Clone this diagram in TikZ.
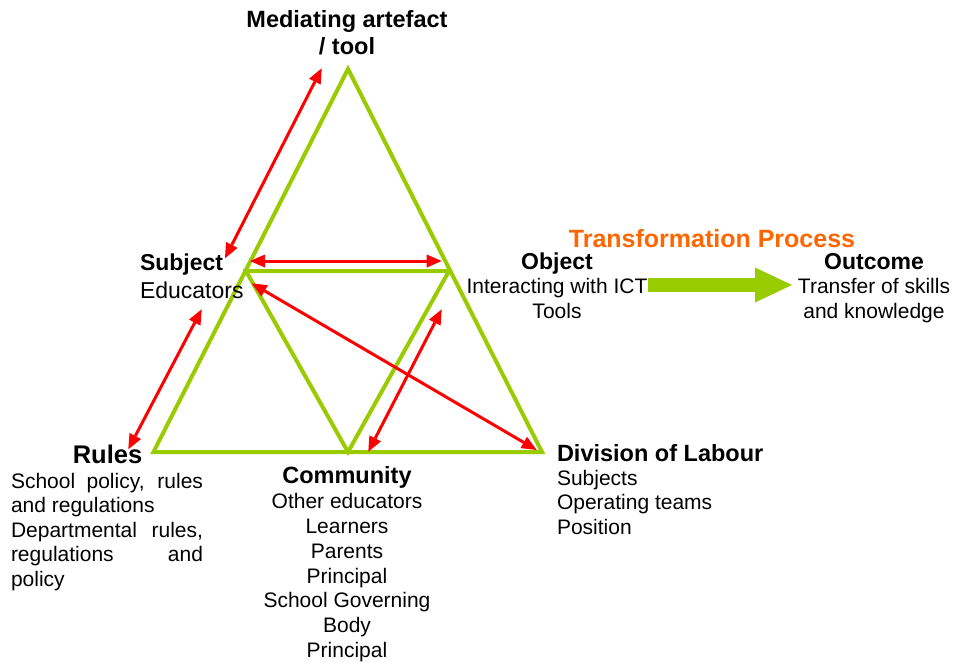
\documentclass[tikz,border=0pt]{standalone}
\usepackage{fontspec}
\setmainfont{Liberation Sans}
\usetikzlibrary{arrows.meta}
\definecolor{trigreen}{RGB}{153,204,0}
\definecolor{arrred}{RGB}{255,0,0}
\definecolor{procorange}{RGB}{255,102,0}
\newcommand{\myfs}[2]{\fontsize{#1}{#2}\selectfont}
\begin{document}
\begin{tikzpicture}[x=1pt,y=-1pt,
  edge/.style={draw=trigreen, line width=4pt, line join=miter},
  link/.style={draw=arrred, line width=3pt,
    {Triangle[length=15pt,width=13pt,line width=0pt]}-{Triangle[length=15pt,width=13pt,line width=0pt]}},
  flow/.style={draw=trigreen, line width=14pt, -{Triangle[length=37pt,width=35pt,line width=0pt]}},
  lbl/.style={inner sep=0pt, outer sep=0pt},
]
\useasboundingbox (0,0) rectangle (955,661);

% triangles
\coordinate (apex) at (348,69);
\coordinate (bl) at (153.5,452);
\coordinate (br) at (542,452);
\coordinate (il) at (246,271);
\coordinate (ir) at (449,271);
\coordinate (ib) at (348,452);
\draw[edge] (apex) -- (bl) -- (br) -- cycle;
\draw[edge] (il) -- (ir) -- (ib) -- cycle;

% labels (anchor=base of multi-line nodes = baseline of last line)
\node[lbl, anchor=base, align=center, font=\bfseries\myfs{23.5}{27}] (tool) at (347,55) {Mediating artefact\\/ tool};
\node[lbl, anchor=base west, align=left, font=\myfs{23}{28}] (subject) at (140,298) {\textbf{Subject}\\Educators};
\node[lbl, anchor=base, align=center, font=\myfs{21}{24.5}] (object) at (557,318) {{\bfseries\myfs{23}{24.5}Object}\\Interacting with ICT\\Tools};
\node[lbl, anchor=base, align=center, font=\myfs{21}{24.5}] (outcome) at (874,318) {{\bfseries\myfs{23}{24.5}Outcome}\\Transfer of skills\\and knowledge};
\node[lbl, anchor=base, font=\bfseries\myfs{25}{28}, text=procorange] (process) at (712,247) {Transformation Process};
\node[lbl, anchor=base, font=\bfseries\myfs{25.5}{28}] (rules) at (107.5,463) {Rules};
\node[lbl, anchor=base west, text width=192pt, align=justify, font=\myfs{21}{24.5}] (rulestext) at (11,488)
  {\hyphenpenalty=10000\tolerance=10000 School policy, rules\linebreak and regulations\par Departmental rules,\linebreak regulations and\linebreak policy};
\node[lbl, anchor=base, align=center, font=\myfs{21}{24.8}] (community) at (347,657.5)
  {{\bfseries\myfs{23.5}{24.8}Community}\\Other educators\\Learners\\Parents\\Principal\\School Governing\\Body\\Principal};
\node[lbl, anchor=base west, align=left, font=\myfs{21}{24.3}] (labour) at (557,534)
  {{\bfseries\myfs{23.5}{24.3}Division of Labour}\\Subjects\\Operating teams\\Position};

% red double arrows
\coordinate (toolend) at (321.7,68.3);
\coordinate (subjtop) at (225,258.3);
\coordinate (subjright) at (250,261);
\coordinate (objleft) at (441.7,261);
\coordinate (subjlow) at (201.7,309.3);
\coordinate (rulesend) at (128.3,449.3);
\coordinate (subjdiag) at (251.7,283.3);
\coordinate (labourend) at (536.7,450);
\coordinate (objlow) at (441.7,309.3);
\coordinate (commend) at (368.3,451.7);
\draw[link] (subjtop) -- (toolend);
\draw[link] (subjright) -- (objleft);
\draw[link] (subjlow) -- (rulesend);
\draw[link] (subjdiag) -- (labourend);
\draw[link] (objlow) -- (commend);

% transformation arrow
\coordinate (flowstart) at (648,285);
\coordinate (flowend) at (792,285);
\draw[flow] (flowstart) -- (flowend);
\end{tikzpicture}
\end{document}
